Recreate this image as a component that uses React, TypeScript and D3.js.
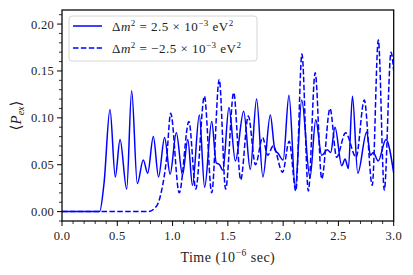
import React from 'react'
import * as d3 from 'd3'

// solid curve: dm^2 = +2.5e-3 (time in 1e-6 s, extrema)
const solidT = [0, 0.34, 0.38, 0.434, 0.482, 0.525, 0.585, 0.63, 0.681, 0.735, 0.775, 0.826, 0.873, 0.928, 0.978,
  1.034, 1.09, 1.138, 1.18, 1.242, 1.29, 1.354, 1.395, 1.425, 1.455, 1.51, 1.568, 1.643, 1.703, 1.76, 1.817,
  1.884, 1.925, 1.955, 2.0, 2.053, 2.11, 2.168, 2.243, 2.295, 2.349, 2.4, 2.43, 2.469, 2.53, 2.56, 2.59,
  2.627, 2.675, 2.756, 2.79, 2.815, 2.86, 2.93, 3.0]
const solidP = [0, 0, 0.03, 0.109, 0.037, 0.077, 0.024, 0.129, 0.03, 0.055, 0.041, 0.08, 0.037, 0.079, 0.04,
  0.084, 0.039, 0.077, 0.028, 0.103, 0.026, 0.096, 0.052, 0.05, 0.044, 0.111, 0.054, 0.107, 0.045, 0.12, 0.037,
  0.103, 0.066, 0.062, 0.055, 0.124, 0.026, 0.119, 0.036, 0.098, 0.06, 0.066, 0.063, 0.09, 0.049, 0.056, 0.046,
  0.123, 0.041, 0.085, 0.06, 0.063, 0.054, 0.077, 0.041]

// dashed curve: dm^2 = -2.5e-3
const dashedT = [0, 0.78, 0.856, 0.9, 0.947, 0.983, 1.06, 1.148, 1.21, 1.288, 1.354, 1.422, 1.48, 1.553, 1.616,
  1.685, 1.75, 1.815, 1.86, 1.91, 1.995, 2.055, 2.115, 2.17, 2.228, 2.29, 2.349, 2.424, 2.484, 2.565, 2.66,
  2.734, 2.806, 2.861, 2.915, 2.976, 3.0]
const dashedP = [0, 0, 0.006, 0.022, 0.058, 0.105, 0.02, 0.096, 0.024, 0.123, 0.02, 0.141, 0.024, 0.127, 0.034,
  0.102, 0.05, 0.079, 0.06, 0.07, 0.042, 0.075, 0.022, 0.168, 0.022, 0.148, 0.035, 0.11, 0.058, 0.084, 0.058,
  0.119, 0.028, 0.183, 0.023, 0.17, 0.15]

const xTicks = [0, 0.5, 1.0, 1.5, 2.0, 2.5, 3.0]
const yTicks = [0, 0.05, 0.1, 0.15, 0.2]

const W = 413, H = 275
const left = 62, right = 393.7, top = 10, bottom = 221
const font = '"Liberation Serif", "DejaVu Serif", serif'
const blue = '#0000ff'

export default function App() {
  const x = d3.scaleLinear().domain([0, 3]).range([left, right])
  const y = d3.scaleLinear().domain([-0.01, 0.215]).range([bottom, top])

  const line = d3.line<number>()
    .x(d => x(d[0]))
    .y(d => y(d[1]))
    .curve(d3.curveMonotoneX)

  const solid = solidT.map((t, i) => [t, solidP[i]])
  const dashed = dashedT.map((t, i) => [t, dashedP[i]])

  const xMinor = d3.range(0, 31).map(i => i / 10).filter(v => !xTicks.some(t => Math.abs(t - v) < 1e-9))
  const yMinor = d3.range(-1, 22).map(i => i / 100).filter(v => !yTicks.some(t => Math.abs(t - v) < 1e-9))

  return (
    <svg width={W} height={H} style={{ display: 'block', position: 'absolute', left: 0, top: 0 }}
      fontFamily={font}>
      <rect width={W} height={H} fill="#fff" />
      <defs>
        <clipPath id="plot"><rect x={left} y={top} width={right - left} height={bottom - top} /></clipPath>
      </defs>
      <g clipPath="url(#plot)">
        <path d={line(solid as any) || ''} fill="none" stroke={blue} strokeWidth={1.5} strokeLinejoin="round" />
        <path d={line(dashed as any) || ''} fill="none" stroke={blue} strokeWidth={1.5} strokeDasharray="5.5 2.4" />
      </g>
      <rect x={left} y={top} width={right - left} height={bottom - top} fill="none" stroke="#000" strokeWidth={1.25} />

      {/* x axis */}
      {xTicks.map(t => (
        <g key={'x' + t}>
          <line x1={x(t)} x2={x(t)} y1={bottom} y2={bottom + 5} stroke="#000" strokeWidth={1} />
          <text x={x(t)} y={bottom + 19} fontSize={12.5} letterSpacing={0.3} textAnchor="middle" fill="#222">{t.toFixed(1)}</text>
        </g>
      ))}
      {xMinor.map(t => (
        <line key={'xm' + t} x1={x(t)} x2={x(t)} y1={bottom} y2={bottom + 3} stroke="#000" strokeWidth={0.8} />
      ))}
      {/* y axis */}
      {yTicks.map(t => (
        <g key={'y' + t}>
          <line x1={left - 5} x2={left} y1={y(t)} y2={y(t)} stroke="#000" strokeWidth={1} />
          <text x={left - 8} y={y(t) + 4.5} fontSize={12.5} letterSpacing={0.3} textAnchor="end" fill="#222">{t.toFixed(2)}</text>
        </g>
      ))}
      {yMinor.map(t => (
        <line key={'ym' + t} x1={left - 3} x2={left} y1={y(t)} y2={y(t)} stroke="#000" strokeWidth={0.8} />
      ))}

      <text x={(left + right) / 2} y={262} fontSize={14} letterSpacing={0.5} textAnchor="middle" fill="#222">
        Time (10<tspan dy={-6} fontSize={9.5}>−6</tspan><tspan dy={6}> sec)</tspan>
      </text>
      <text transform={`translate(21,${(top + bottom) / 2}) rotate(-90)`} fontSize={15} textAnchor="middle" fill="#222">
        ⟨<tspan fontStyle="italic">P</tspan><tspan dy={3} fontSize={10} fontStyle="italic">ex</tspan><tspan dy={-3}>⟩</tspan>
      </text>

      {/* legend */}
      <rect x={69} y={16} width={188} height={45} rx={3} fill="#fff" fillOpacity={0.8} stroke="#ccc" strokeWidth={0.8} />
      <line x1={73} x2={102} y1={26} y2={26} stroke={blue} strokeWidth={1.5} />
      <line x1={73} x2={102} y1={48} y2={48} stroke={blue} strokeWidth={1.5} strokeDasharray="5.5 2.4" />
      <text x={112} y={30.5} fontSize={13} letterSpacing={0.5} fill="#222">
        Δ<tspan fontStyle="italic">m</tspan><tspan dy={-5} fontSize={9}>2</tspan><tspan dy={5}> = 2.5 × 10</tspan>
        <tspan dy={-5} fontSize={9}>−3</tspan><tspan dy={5}> eV</tspan><tspan dy={-5} fontSize={9}>2</tspan>
      </text>
      <text x={112} y={52.5} fontSize={13} letterSpacing={0.5} fill="#222">
        Δ<tspan fontStyle="italic">m</tspan><tspan dy={-5} fontSize={9}>2</tspan><tspan dy={5}> = −2.5 × 10</tspan>
        <tspan dy={-5} fontSize={9}>−3</tspan><tspan dy={5}> eV</tspan><tspan dy={-5} fontSize={9}>2</tspan>
      </text>
    </svg>
  )
}
